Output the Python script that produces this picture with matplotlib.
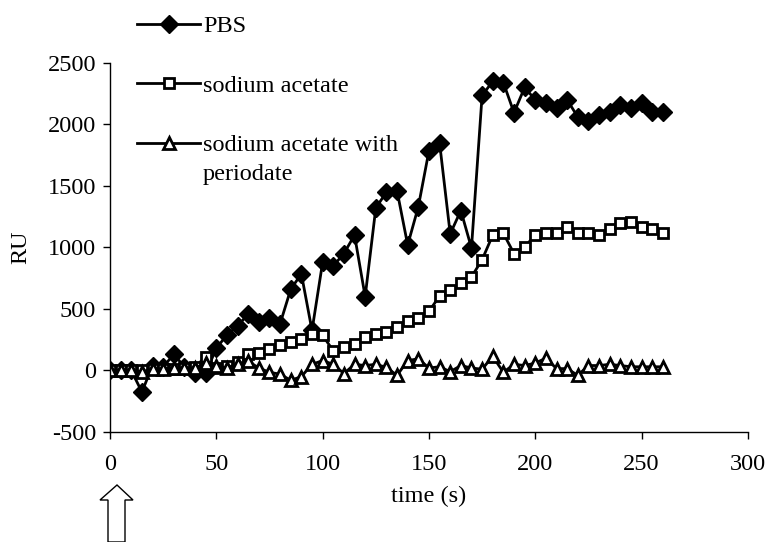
import numpy as np
import matplotlib
matplotlib.use("Agg")
import matplotlib.pyplot as plt
from matplotlib.patches import Polygon

plt.rcParams['font.family'] = ['Liberation Serif', 'DejaVu Serif']
plt.rcParams['axes.unicode_minus'] = False

time_s = [0, 5, 10, 15, 20, 25, 30, 35, 40, 45, 50, 55, 60, 65, 70, 75, 80, 85, 90, 95,
          100, 105, 110, 115, 120, 125, 130, 135, 140, 145, 150, 155, 160, 165, 170, 175,
          180, 185, 190, 195, 200, 205, 210, 215, 220, 225, 230, 235, 240, 245, 250, 255, 260]

pbs = [0, 0, 0, -175, 40, 30, 130, 30, -20, -20, 180, 290, 360, 460, 390, 430, 380, 660, 785, 325,
       880, 850, 950, 1100, 600, 1320, 1450, 1460, 1020, 1330, 1785, 1850, 1110, 1300, 995, 2235,
       2350, 2340, 2095, 2300, 2200, 2170, 2130, 2200, 2060, 2030, 2080, 2100, 2160, 2130, 2170, 2100, 2100]

sodium_acetate = [0, 0, 0, 0, 10, 10, 10, 20, 30, 110, 20, 40, 65, 130, 145, 175, 205, 230, 255, 295,
                  285, 160, 190, 215, 270, 295, 310, 355, 405, 425, 480, 605, 650, 710, 760, 900,
                  1100, 1115, 950, 1000, 1105, 1115, 1120, 1170, 1115, 1120, 1100, 1150, 1195, 1210, 1165, 1150, 1120]

periodate = [0, 0, 0, -10, 10, 15, 20, 20, 20, 60, 35, 20, 55, 75, 20, -15, -30, -80, -50, 50,
             80, 50, -25, 50, 40, 50, 25, -40, 80, 95, 20, 30, -10, 40, 20, 10,
             115, -15, 50, 40, 60, 100, 15, 15, -40, 40, 40, 50, 40, 30, 30, 30, 30]

labels = ["PBS", "sodium acetate", "sodium acetate with", "periodate"]
x_ticks = [0, 50, 100, 150, 200, 250, 300]
y_ticks = [-500, 0, 500, 1000, 1500, 2000, 2500]

FS = 17.5
fig = plt.figure(figsize=(7.71, 5.42), dpi=100)
ax = fig.add_axes([0.1427, 0.203, 0.8273, 0.681])

ax.plot(time_s, pbs, color='black', lw=2, marker='D', ms=9, mfc='black', mec='black', label=labels[0])
ax.plot(time_s, sodium_acetate, color='black', lw=2, marker='s', ms=7, mfc='white', mec='black', mew=2, label=labels[1])
ax.plot(time_s, periodate, color='black', lw=2, marker='^', ms=8.5, mfc='white', mec='black', mew=2, label=labels[2])

ax.set_xlim(0, 300)
ax.set_ylim(-500, 2500)
ax.set_xticks(x_ticks)
ax.set_yticks(y_ticks)
ax.tick_params(axis='both', direction='out', length=5, width=1, labelsize=FS, pad=5)
ax.tick_params(axis='x', pad=11)
for s in ['top', 'right']:
    ax.spines[s].set_visible(False)
for s in ['left', 'bottom']:
    ax.spines[s].set_linewidth(1)
ax.set_xlabel("time (s)", fontsize=FS, labelpad=8)
ax.set_ylabel("RU", fontsize=FS, labelpad=12)

leg = ax.legend(loc='upper left', bbox_to_anchor=(137 / 771, 1 - 15 / 542), bbox_transform=fig.transFigure,
                frameon=False, fontsize=FS, handlelength=2.6, handletextpad=0.12,
                labelspacing=1.55, borderpad=0, borderaxespad=0)
fig.canvas.draw()
# second line of the third legend label
t3 = leg.get_texts()[2]
bb = t3.get_window_extent()
fig.text(bb.x0 / fig.bbox.width, (bb.y0 - 29) / fig.bbox.height, labels[3],
         fontsize=FS, ha='left', va='bottom')

# hollow arrow marking injection time
W, H = 771, 542
pts = [(117, 485), (133, 500), (125, 500), (125, 542), (108, 542), (108, 500), (100, 500)]
arrow = Polygon([(x / W, 1 - y / H) for x, y in pts], closed=True, transform=fig.transFigure,
                facecolor='white', edgecolor='black', lw=1, clip_on=False)
fig.patches.append(arrow)

fig.savefig("out.png", dpi=100)
